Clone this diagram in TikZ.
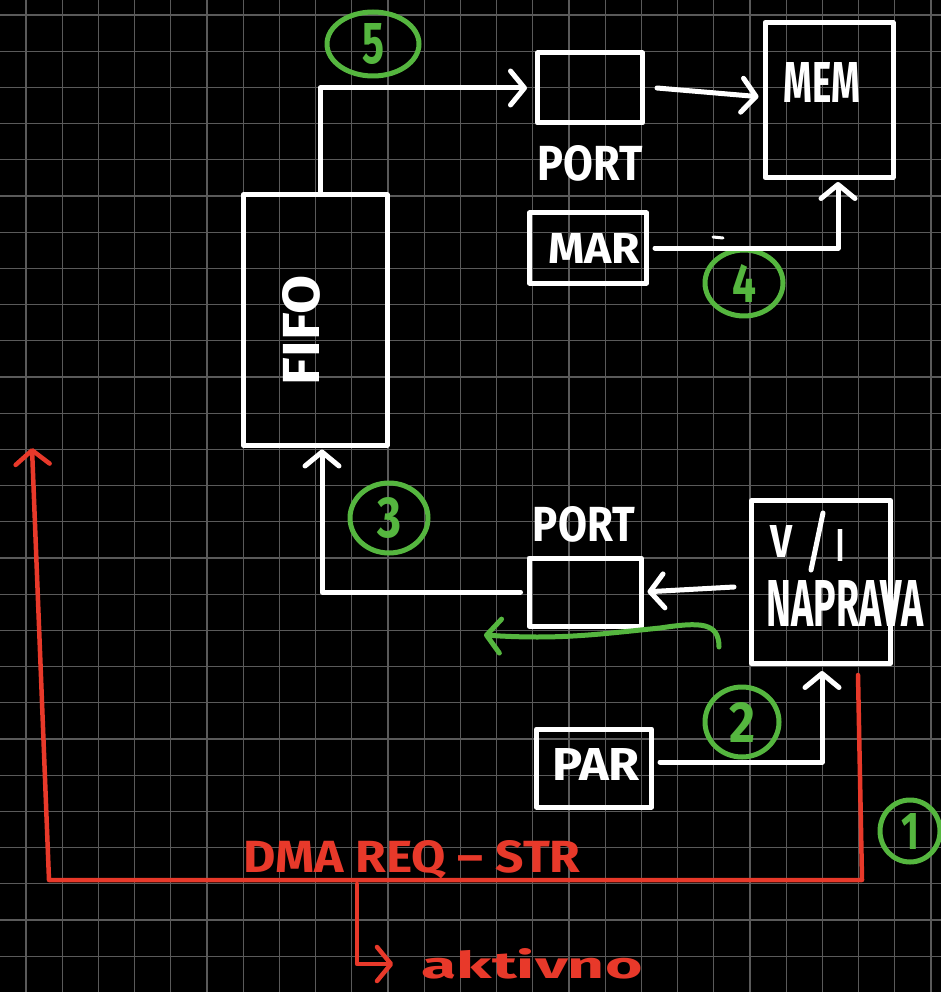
\documentclass[tikz,border=0pt]{standalone}
\usepackage{fontspec}
\setmainfont{Fira Sans}
\usepackage{graphicx}
\usetikzlibrary{arrows.meta,shapes.geometric}
\definecolor{gridc}{HTML}{5A5A5A}
\definecolor{hgreen}{HTML}{55B63F}
\definecolor{hred}{HTML}{E8392A}
\newcommand{\hwtext}[3]{\resizebox{#1pt}{#2pt}{\bfseries #3}}
\begin{document}
\begin{tikzpicture}[x=1pt,y=-1pt,
  wl/.style={draw=white,line width=5pt,line cap=round,line join=round},
  gl/.style={draw=hgreen,line width=5pt,line cap=round,line join=round},
  rl/.style={draw=hred,line width=4.5pt,line cap=round,line join=round},
  arr/.style={-{Straight Barb[length=14pt,width=34pt,round]}},
  box/.style={wl,rectangle,inner sep=0pt},
  txt/.style={text=white,inner sep=0pt},
  rtxt/.style={text=hred,inner sep=0pt},
  num/.style={gl,ellipse,inner sep=0pt,text=hgreen}]
\useasboundingbox (0,0) rectangle (941,992);
\fill[black] (0,0) rectangle (941,992);
% grid
\foreach \i in {0,...,25} {\draw[gridc,line width=1.3pt] ({26+36.2*\i},0) -- ({26+36.2*\i},992);}
\foreach \j in {0,...,27} {\draw[gridc,line width=1.3pt] (0,{15+36.2*\j}) -- (941,{15+36.2*\j});}

% boxes
\node[box,minimum width=144pt,minimum height=250pt] (fifo) at (315,320) {};
\node[box,minimum width=105pt,minimum height=70pt] (portA) at (590,88) {};
\node[box,minimum width=128pt,minimum height=155pt] (mem) at (829,100) {};
\node[box,minimum width=117pt,minimum height=70pt] (mar) at (588,248) {};
\node[box,minimum width=112pt,minimum height=68pt] (portB) at (585,592) {};
\node[box,minimum width=139pt,minimum height=163pt] (napr) at (821,582) {};
\node[box,minimum width=115pt,minimum height=78pt] (par) at (594,768) {};

% texts
\node[txt] (memT) at (822,83) {\hwtext{77}{40}{MEM}};
\node[txt] (portAT) at (590,163) {\hwtext{105}{35}{PORT}};
\node[txt] (marT) at (594,248) {\hwtext{92}{30}{MAR}};
\node[txt,rotate=90] (fifoT) at (301,330) {\hwtext{110}{37}{FIFO}};
\node[txt] (portBT) at (584,524) {\hwtext{102}{35}{PORT}};
\node[txt] (vT) at (781,541) {\hwtext{22}{32}{V}};
\node[txt] (iT) at (840,545) {\hwtext{8}{32}{I}};
\draw[wl] (823,513) -- (811,570);
\node[txt] (naprT) at (845,603) {\hwtext{157}{46}{NAPRAVA}};
\node[txt] (parT) at (596,764) {\hwtext{88}{32}{PAR}};
\node[rtxt] (dmaT) at (412,860) {\hwtext{337}{32}{DMA REQ – STR}};
\node[rtxt] (aktT) at (532,964) {\hwtext{221}{30}{aktivno}};

% numbered circles
\node[num,minimum width=92pt,minimum height=64pt] (n5) at (373,44) {\hwtext{22}{40}{5}};
\node[num,minimum width=78pt,minimum height=66pt] (n4) at (744,283) {\hwtext{24}{38}{4}};
\node[num,minimum width=78pt,minimum height=70pt] (n3) at (389,518) {\hwtext{24}{40}{3}};
\node[num,minimum width=74pt,minimum height=70pt] (n2) at (742,722) {\hwtext{26}{40}{2}};
\node[num,minimum width=60pt,minimum height=62pt] (n1) at (910,831) {\hwtext{18}{36}{1}};

% white connectors
\draw[wl,arr,shorten >=8pt] ([xshift=5pt]fifo.north) |- (portA.west);
\draw[wl,arr,shorten >=4pt] ([xshift=12pt]portA.east) -- ([yshift=3pt]mem.west);
\draw[wl,arr,shorten <=6pt,shorten >=2pt] (mar.east) -| ([xshift=9pt]mem.south);
\draw[wl,arr,shorten >=4pt] ([xshift=-15pt,yshift=-5pt]napr.west) -- (portB.east);
\draw[wl,arr,shorten >=2pt] ([xshift=-6pt]portB.west) -| ([xshift=7pt]fifo.south);
\draw[wl,arr,shorten <=6pt,shorten >=5pt] ([yshift=6pt]par.east) -| ([xshift=1pt]napr.south);
\draw[wl,line width=3pt] (713,237) -- (723,238);

% green arrow
\coordinate (g1) at (719,647);
\coordinate (g2) at (484,635);
\draw[gl,arr] (g1) .. controls (719,622) and (700,622) .. (660,628)
  .. controls (600,634) and (560,640) .. (g2);

% red lines
\coordinate (rc1) at (862,880);
\coordinate (rc2) at (49,880);
\coordinate (rtip) at (32,448);
\draw[rl,arr] ([xshift=37pt,yshift=-9pt]napr.south) -- (rc1) -- (rc2) -- (rtip);
\coordinate (rb) at (357,884);
\draw[rl,arr,shorten >=28pt] (rb) |- (aktT.west);
\end{tikzpicture}
\end{document}
